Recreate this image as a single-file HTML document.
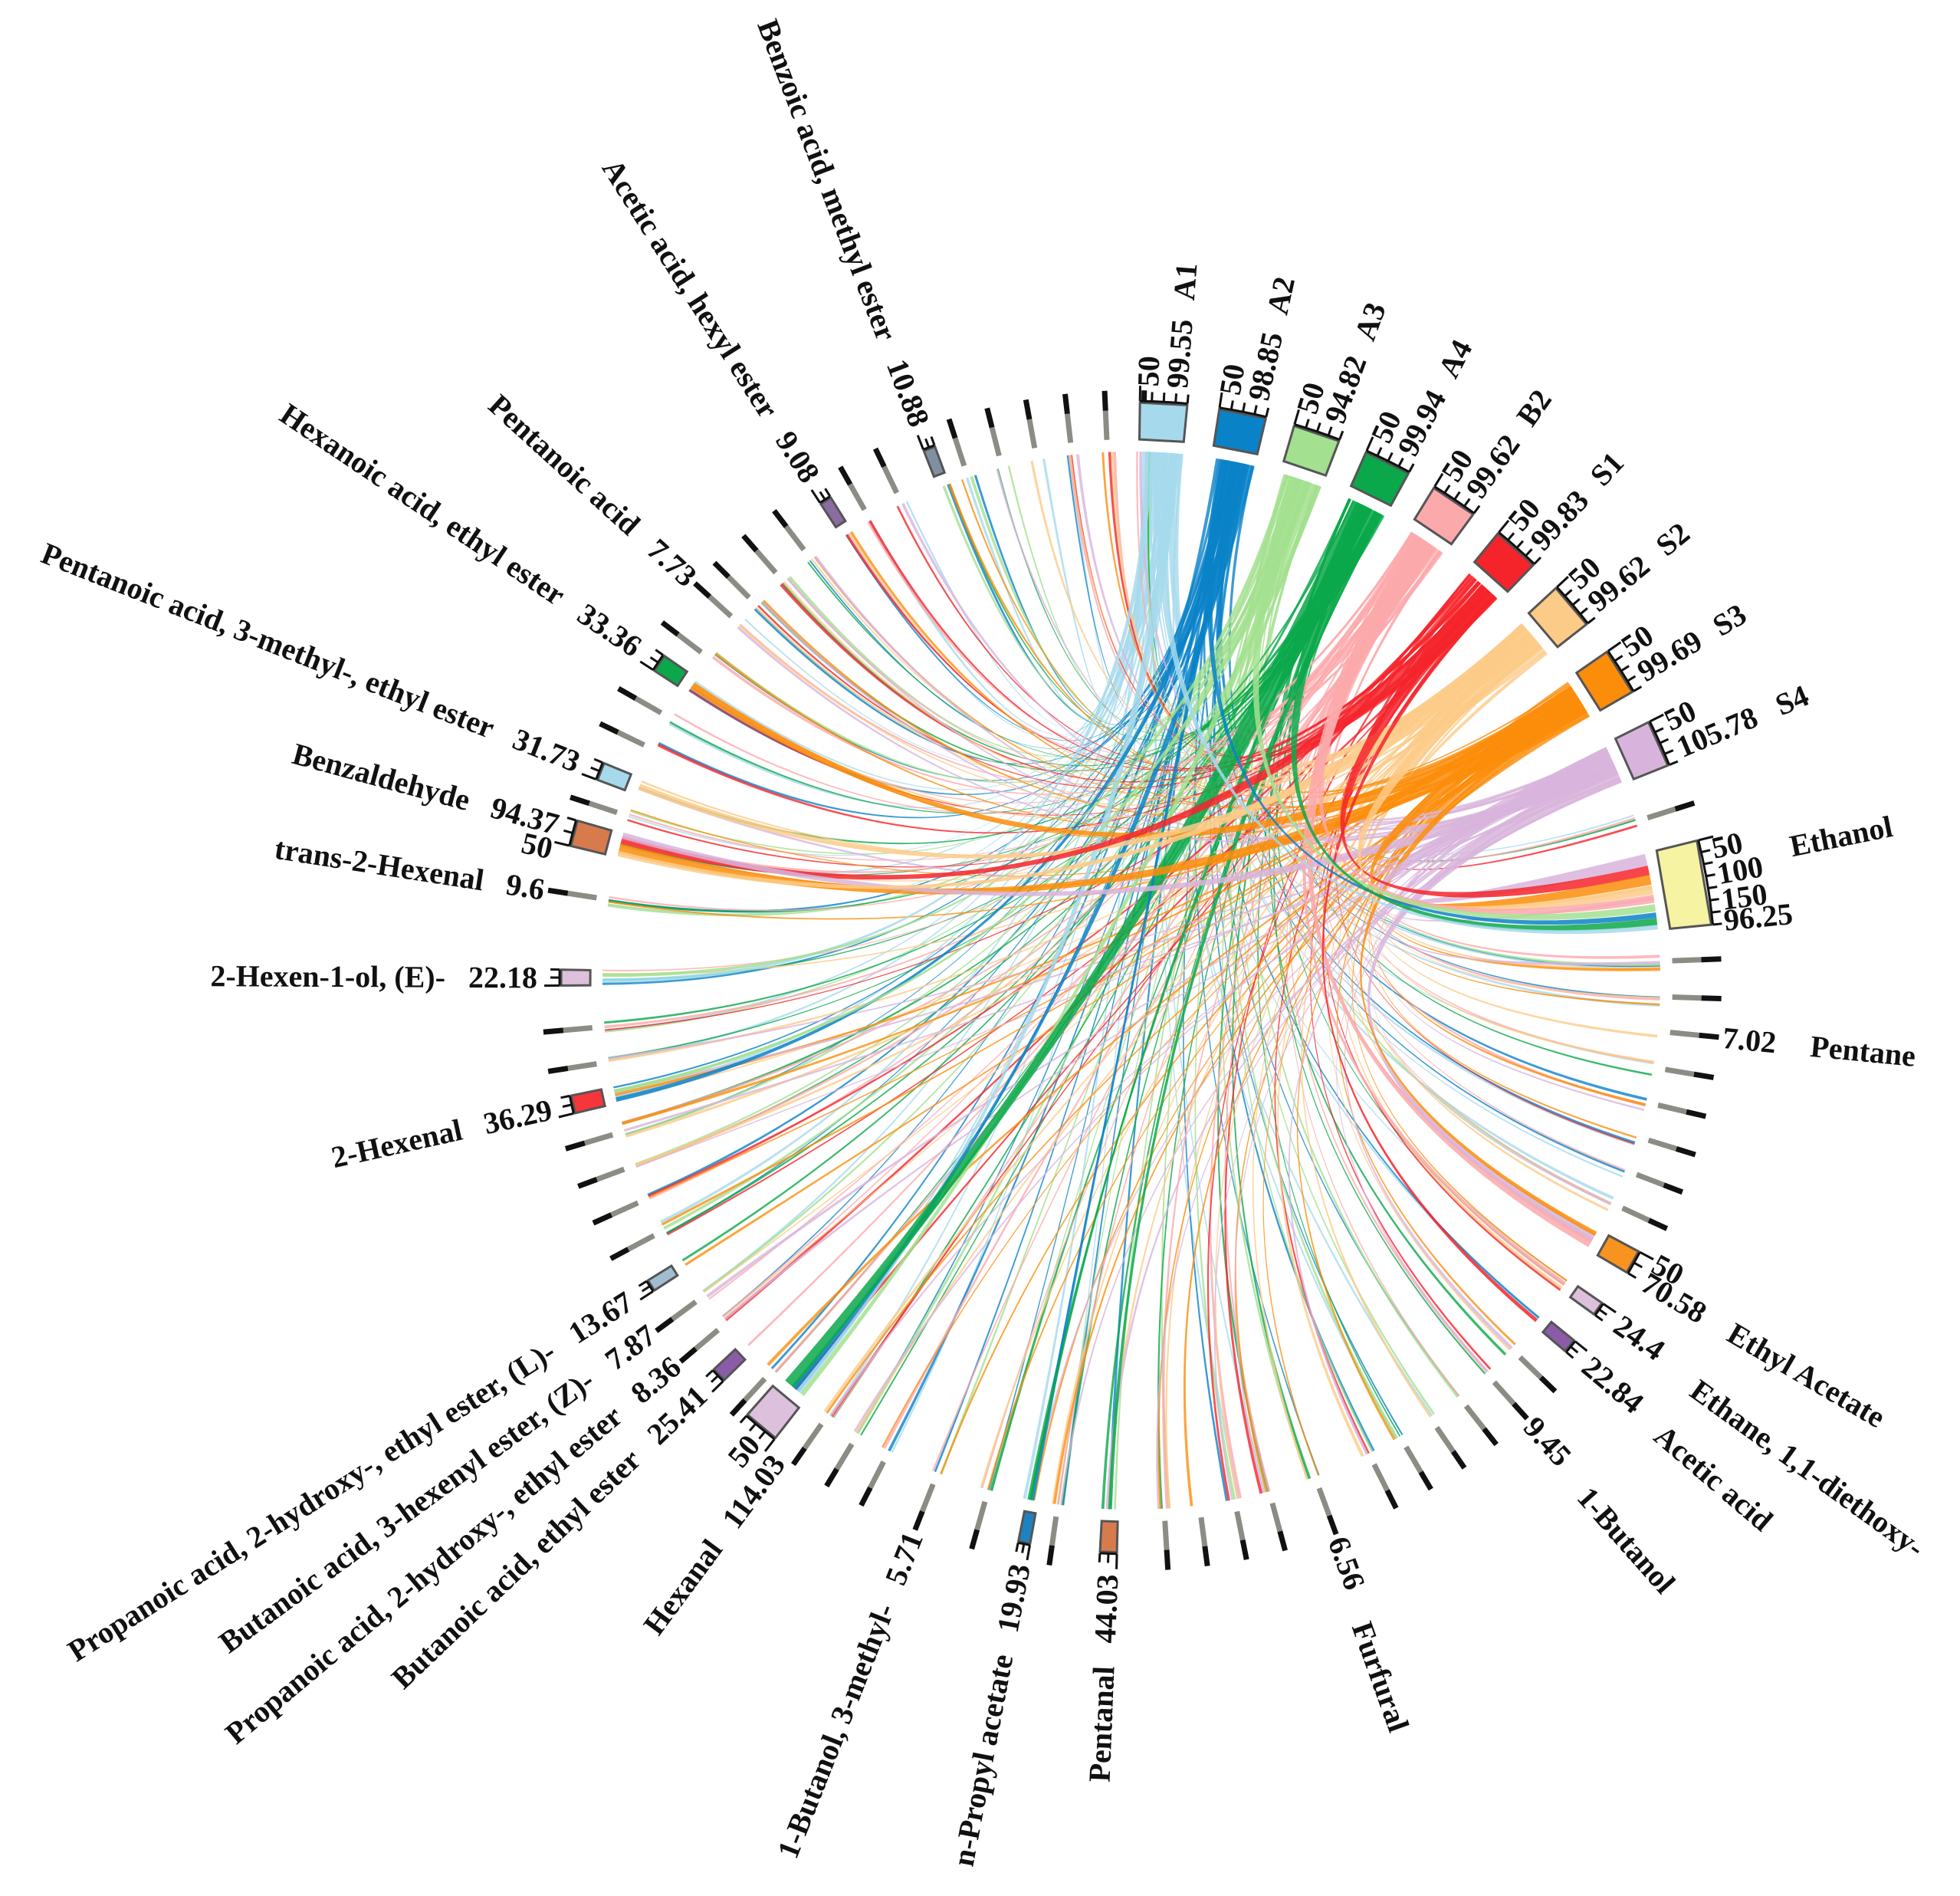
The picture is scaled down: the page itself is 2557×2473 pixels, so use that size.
<!DOCTYPE html>
<html><head><meta charset="utf-8">
<style>
html,body{margin:0;padding:0;background:#fff;}
svg{display:block;}
text{font-family:"Liberation Serif",serif;font-weight:bold;font-size:40px;fill:#111;dominant-baseline:central;}
</style></head>
<body>
<svg id="s" width="2557" height="2473" viewBox="0 0 2557 2473" xmlns="http://www.w3.org/2000/svg">
<g id="chords"></g>
<g id="marks"></g>
<g id="labels">
<text transform="rotate(-88.4 1476 1279)" x="2251" y="1279" font-size="36">50</text>
<text transform="rotate(-85.6 1476 1279)" x="2251" y="1279" font-size="36">99.55</text>
<text transform="rotate(-85.6 1476 1279)" x="2366" y="1279">A1</text>
<text transform="rotate(-80.5 1476 1279)" x="2251" y="1279" font-size="36">50</text>
<text transform="rotate(-77.7 1476 1279)" x="2251" y="1279" font-size="36">98.85</text>
<text transform="rotate(-77.7 1476 1279)" x="2366" y="1279">A2</text>
<text transform="rotate(-72.9 1476 1279)" x="2251" y="1279" font-size="36">50</text>
<text transform="rotate(-70.1 1476 1279)" x="2251" y="1279" font-size="36">94.82</text>
<text transform="rotate(-70.1 1476 1279)" x="2366" y="1279">A3</text>
<text transform="rotate(-65.3 1476 1279)" x="2251" y="1279" font-size="36">50</text>
<text transform="rotate(-62.5 1476 1279)" x="2251" y="1279" font-size="36">99.94</text>
<text transform="rotate(-62.5 1476 1279)" x="2366" y="1279">A4</text>
<text transform="rotate(-57.7 1476 1279)" x="2251" y="1279" font-size="36">50</text>
<text transform="rotate(-54.9 1476 1279)" x="2251" y="1279" font-size="36">99.62</text>
<text transform="rotate(-54.9 1476 1279)" x="2366" y="1279">B2</text>
<text transform="rotate(-49.9 1476 1279)" x="2251" y="1279" font-size="36">50</text>
<text transform="rotate(-47.1 1476 1279)" x="2251" y="1279" font-size="36">99.83</text>
<text transform="rotate(-47.1 1476 1279)" x="2366" y="1279">S1</text>
<text transform="rotate(-42.0 1476 1279)" x="2251" y="1279" font-size="36">50</text>
<text transform="rotate(-39.2 1476 1279)" x="2251" y="1279" font-size="36">99.62</text>
<text transform="rotate(-39.2 1476 1279)" x="2366" y="1279">S2</text>
<text transform="rotate(-33.9 1476 1279)" x="2251" y="1279" font-size="36">50</text>
<text transform="rotate(-31.1 1476 1279)" x="2251" y="1279" font-size="36">99.69</text>
<text transform="rotate(-31.1 1476 1279)" x="2366" y="1279">S3</text>
<text transform="rotate(-25.8 1476 1279)" x="2251" y="1279" font-size="36">50</text>
<text transform="rotate(-23.0 1476 1279)" x="2251" y="1279" font-size="36">105.78</text>
<text transform="rotate(-23.0 1476 1279)" x="2391" y="1279">S4</text>
<text transform="rotate(-12.8 1476 1279)" x="2253" y="1279" font-size="34">50</text>
<text transform="rotate(-10.3 1476 1279)" x="2253" y="1279" font-size="34">100</text>
<text transform="rotate(-7.8 1476 1279)" x="2253" y="1279" font-size="34">150</text>
<text transform="rotate(-5.8 1476 1279)" x="2253" y="1279" font-size="34">96.25</text>
<text transform="rotate(-11.5 1476 1279)" x="2353" y="1279">Ethanol</text>
<text transform="rotate(5.5 1476 1279)" x="2251" y="1279">7.02</text>
<text transform="rotate(5.5 1476 1279)" x="2366" y="1279">Pentane</text>
<text transform="rotate(28.3 1476 1279)" x="2251" y="1279" font-size="36">50</text>
<text transform="rotate(30.3 1476 1279)" x="2251" y="1279">70.58</text>
<text transform="rotate(30.3 1476 1279)" x="2381" y="1279">Ethyl Acetate</text>
<text transform="rotate(35.1 1476 1279)" x="2251" y="1279">24.4</text>
<text transform="rotate(35.8 1476 1279)" x="2381" y="1279">Ethane, 1,1-diethoxy-</text>
<text transform="rotate(40.0 1476 1279)" x="2251" y="1279">22.84</text>
<text transform="rotate(40.5 1476 1279)" x="2381" y="1279">Acetic acid</text>
<text transform="rotate(47.9 1476 1279)" x="2251" y="1279">9.45</text>
<text transform="rotate(48.5 1476 1279)" x="2366" y="1279">1-Butanol</text>
<text transform="rotate(69.7 1476 1279)" x="2251" y="1279">6.56</text>
<text transform="rotate(70.3 1476 1279)" x="2366" y="1279">Furfural</text>
<text transform="rotate(272.3 1476 1279)" x="701" y="1279" text-anchor="end">Pentanal&#160;&#160;&#160;44.03</text>
<text transform="rotate(280.8 1476 1279)" x="701" y="1279" text-anchor="end">n-Propyl acetate&#160;&#160;&#160;19.93</text>
<text transform="rotate(291.5 1476 1279)" x="701" y="1279" text-anchor="end">1-Butanol, 3-methyl-&#160;&#160;&#160;5.71</text>
<text transform="rotate(306.5 1476 1279)" x="701" y="1279" text-anchor="end">Hexanal&#160;&#160;&#160;114.03</text>
<text transform="rotate(309.5 1476 1279)" x="701" y="1279" text-anchor="end" font-size="36">50</text>
<text transform="rotate(316.3 1476 1279)" x="701" y="1279" text-anchor="end">Butanoic acid, ethyl ester&#160;&#160;&#160;25.41</text>
<text transform="rotate(320.0 1476 1279)" x="701" y="1279" text-anchor="end">Propanoic acid, 2-hydroxy-, ethyl ester&#160;&#160;&#160;8.36</text>
<text transform="rotate(323.8 1476 1279)" x="701" y="1279" text-anchor="end">Butanoic acid, 3-hexenyl ester, (Z)-&#160;&#160;&#160;7.87</text>
<text transform="rotate(327.6 1476 1279)" x="701" y="1279" text-anchor="end">Propanoic acid, 2-hydroxy-, ethyl ester, (L)-&#160;&#160;&#160;13.67</text>
<text transform="rotate(347.5 1476 1279)" x="701" y="1279" text-anchor="end">2-Hexenal&#160;&#160;&#160;36.29</text>
<text transform="rotate(0.3 1476 1279)" x="701" y="1279" text-anchor="end">2-Hexen-1-ol, (E)-&#160;&#160;&#160;22.18</text>
<text transform="rotate(8.8 1476 1279)" x="701" y="1279" text-anchor="end">trans-2-Hexenal&#160;&#160;&#160;9.6</text>
<text transform="rotate(12.8 1476 1279)" x="701" y="1279" text-anchor="end" font-size="36">50</text>
<text transform="rotate(15.2 1476 1279)" x="701" y="1279" text-anchor="end">Benzaldehyde&#160;&#160;&#160;94.37</text>
<text transform="rotate(21.5 1476 1279)" x="701" y="1279" text-anchor="end">Pentanoic acid, 3-methyl-, ethyl ester&#160;&#160;&#160;31.73</text>
<text transform="rotate(33.9 1476 1279)" x="701" y="1279" text-anchor="end">Hexanoic acid, ethyl ester&#160;&#160;&#160;33.36</text>
<text transform="rotate(42.3 1476 1279)" x="701" y="1279" text-anchor="end">Pentanoic acid&#160;&#160;&#160;7.73</text>
<text transform="rotate(57.5 1476 1279)" x="701" y="1279" text-anchor="end">Acetic acid, hexyl ester&#160;&#160;&#160;9.08</text>
<text transform="rotate(69.2 1476 1279)" x="701" y="1279" text-anchor="end">Benzoic acid, methyl ester&#160;&#160;&#160;10.88</text>
</g>
</svg>
<script>
(function(){
var NS="http://www.w3.org/2000/svg",cx=1476,cy=1279,R0=706,RC=690;
var chords=document.getElementById('chords'),marks=document.getElementById('marks');
function P(a,r){var t=a*Math.PI/180;return [cx+r*Math.cos(t),cy+r*Math.sin(t)];}
function el(tag,attrs,parent){var e=document.createElementNS(NS,tag);for(var k in attrs)e.setAttribute(k,attrs[k]);parent.appendChild(e);return e;}
var seed=12345;function rnd(){seed=(seed*16807)%2147483647;return (seed-1)/2147483646;}
var S=[
{a:-86.8,c:'#a6d9ec'},{a:-78.9,c:'#0a82c8'},{a:-71.3,c:'#a3e08f'},{a:-63.7,c:'#0aa84a'},
{a:-56.1,c:'#fca9ab'},{a:-48.3,c:'#f5242b'},{a:-40.4,c:'#fdcb88'},{a:-32.3,c:'#fb8d0b'},{a:-24.2,c:'#d8b4dc'}];
var T=[
{a:-9.7,c:'#f6f3a2',w:8.4,len:54},
{a:5.5,tick:1},{a:29.3,c:'#f7931e',w:2.4,len:44},{a:35.1,c:'#dcc0dc',w:1.4,len:38},
{a:39.8,c:'#8a5ca8',w:1.4,len:38},{a:47.9,tick:1},{a:69.7,tick:1},
{a:92.3,c:'#d77b4c',w:1.7,len:40},{a:100.8,c:'#1f82c0',w:1.2,len:40},{a:111.5,tick:1},
{a:129.7,c:'#dcc0dc',w:3.6,len:50},{a:136.3,c:'#8a5ca8',w:1.5,len:38},{a:139.8,tick:1},{a:143.6,tick:1},
{a:147.6,c:'#9fbfd0',w:1.2,len:36},{a:167.5,c:'#f5363b',w:1.8,len:40},{a:180.3,c:'#dcc0dc',w:1.6,len:38},
{a:188.8,tick:1},{a:194.8,c:'#d77b4c',w:2.6,len:46},{a:201.5,c:'#a6d9ec',w:1.8,len:38},
{a:213.9,c:'#0aa84a',w:1.8,len:36},{a:222.3,tick:1},{a:237.5,c:'#8a6ca0',w:1.2,len:36},{a:249.2,c:'#8090a0',w:1.2,len:36}];
var used=T.map(function(t){return t.a;});
var ticks=[];
for(var a=-17.5;a<272;a+=3.85){
  var ok=true;for(var i=0;i<used.length;i++){var d=Math.abs(a-used[i]);if(d<2.6||(used[i]==-9.7&&d<7))ok=false;}
  if(a>-90&&a<-20)ok=false;
  if(ok)ticks.push(a);
}
T.forEach(function(t){if(t.tick)ticks.push(t.a);});
ticks.forEach(function(a){
  var p1=P(a,R0),p2=P(a,744),p3=P(a,770);
  el('line',{x1:p1[0],y1:p1[1],x2:p2[0],y2:p2[1],stroke:'#8c8c84','stroke-width':7},marks);
  el('line',{x1:p2[0],y1:p2[1],x2:p3[0],y2:p3[1],stroke:'#111','stroke-width':7},marks);
});
function box(a,w,len,c){
  var a0=a-w/2,a1=a+w/2;
  var q=[P(a0,R0),P(a1,R0),P(a1,R0+len),P(a0,R0+len)];
  el('polygon',{points:q.map(function(p){return p[0]+','+p[1];}).join(' '),fill:c,stroke:'#555','stroke-width':3},marks);
  var rr=R0+len+2;
  var s=P(a0,rr),e=P(a1,rr);
  el('path',{d:'M'+s[0]+','+s[1]+' A'+rr+','+rr+' 0 0 1 '+e[0]+','+e[1],fill:'none',stroke:'#111','stroke-width':3},marks);
  var n=Math.max(2,Math.round(w/1.2));
  for(var k=0;k<=n;k++){var aa=a0+(a1-a0)*k/n;var u=P(aa,rr),v=P(aa,rr+(k==0?20:12));
    el('line',{x1:u[0],y1:u[1],x2:v[0],y2:v[1],stroke:'#111','stroke-width':3},marks);}
}
S.forEach(function(s){box(s.a,4.7,48,s.c);});
T.forEach(function(t){if(!t.tick)box(t.a,t.w,t.len,t.c);});
function ribbon(a0,a1,b0,b1,c,op){
  var s0=P(a0,RC),s1=P(a1,RC),t0=P(b0,RC),t1=P(b1,RC);
  var d='M'+s0[0]+','+s0[1]+' A'+RC+','+RC+' 0 0 1 '+s1[0]+','+s1[1]+
    ' Q'+cx+','+cy+' '+t0[0]+','+t0[1]+' A'+RC+','+RC+' 0 0 1 '+t1[0]+','+t1[1]+
    ' Q'+cx+','+cy+' '+s0[0]+','+s0[1]+'Z';
  el('path',{d:d,fill:c,'fill-opacity':op},chords);
}
var smallT=ticks.concat(T.filter(function(t){return !t.tick;}).map(function(t){return t.a;}));
S.forEach(function(s){
  smallT.forEach(function(ta){
    if(rnd()<0.5){
      var sa=s.a-2.1+rnd()*4.2, ws=0.18+rnd()*0.25;
      var tw=0.15+rnd()*0.2, tb=ta-0.8+rnd()*1.6;
      ribbon(sa,sa+ws,tb,tb+tw,s.c,0.8);
    }
  });
});
var thick=[
[0,129,1.2,0.5],[1,129.5,1.0,0.5],[2,128.5,1.0,0.5],[3,130.3,3.0,1.2],[3,92.3,0.8,0.4],[1,100.8,0.6,0.4],[3,101,0.6,0.3],
[1,167,0.8,0.5],[2,167.9,0.6,0.4],[0,180,0.6,0.5],[2,180.6,0.5,0.4],
[7,213.9,1.8,0.8],[6,201.5,1.6,0.7],[7,194.4,2.2,1.0],[5,195.4,1.8,0.8],[8,195.9,1.5,0.7],[6,193.9,1.4,0.6],
[4,29.8,1.6,0.9],[8,29,1.6,0.9],[7,28.6,1.0,0.5],[4,35,1,0.5],[5,40,0.6,0.4],
[8,-13.2,2.2,1.3],[5,-12,1.8,1.1],[7,-11,1.8,1.1],[6,-9.9,1.8,1.0],[4,-8.9,1.4,0.9],[2,-7.9,1.2,0.8],[1,-7.1,0.8,0.6],[3,-6.4,1.4,0.8],[0,-5.8,1.0,0.5]
];
thick.forEach(function(t){var s=S[t[0]];var sa=s.a-2.2+rnd()*(4.4-t[2]);ribbon(sa,sa+t[2],t[1]-t[3]/2,t[1]+t[3]/2,s.c,0.85);});
})();
</script>
</body></html>
